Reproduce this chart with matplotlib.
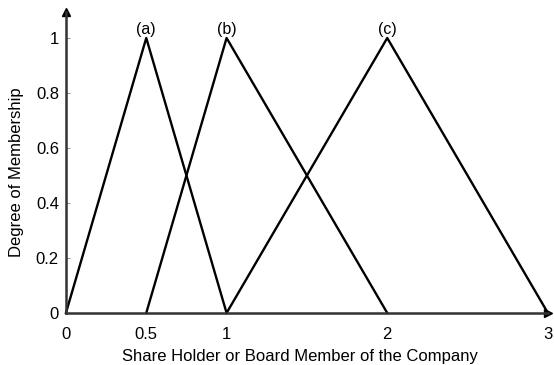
import matplotlib.pyplot as plt

plt.rcParams['font.family'] = ['Liberation Sans', 'DejaVu Sans']

# triangular membership functions (x points, membership values)
labels = ["(a)", "(b)", "(c)"]
a_x = [0, 0.5, 1]
b_x = [0.5, 1, 2]
c_x = [1, 2, 3]
mu = [0, 1, 0]

xticks = [0, 0.5, 1, 2, 3]
xtick_labels = ["0", "0.5", "1", "2", "3"]
yticks = [0, 0.2, 0.4, 0.6, 0.8, 1]
ytick_labels = ["0", "0.2", "0.4", "0.6", "0.8", "1"]

fig = plt.figure(figsize=(5.54, 3.65), dpi=100)
ax = fig.add_axes([0.119, 0.1425, 0.870, 0.825])

for xs, lab in zip([a_x, b_x, c_x], labels):
    ax.plot(xs, mu, color="black", lw=1.7, clip_on=False)
    ax.text(xs[1], 1.005, lab, ha="center", va="bottom", fontsize=11.5)

ax.set_xlim(0, 3)
ax.set_ylim(0, 1.095)
ax.set_xticks(xticks)
ax.set_xticklabels(xtick_labels)
ax.set_yticks(yticks)
ax.set_yticklabels(ytick_labels)
ax.tick_params(axis="both", labelsize=12, direction="in", length=3,
               color="#999999")
ax.tick_params(axis="y", pad=5)
ax.tick_params(axis="x", length=0, pad=10)

for side in ["top", "right"]:
    ax.spines[side].set_visible(False)
for side in ["left", "bottom"]:
    ax.spines[side].set_linewidth(1.8)
    ax.spines[side].set_color("#333333")

# axis arrows
ax.plot(1, 0, ">", color="black", ms=6, transform=ax.transAxes, clip_on=False)
ax.plot(0, 1, "^", color="black", ms=6, transform=ax.transAxes, clip_on=False)

ax.set_xlabel("Share Holder or Board Member of the Company", fontsize=12)
ax.set_ylabel("Degree of Membership", fontsize=12)
ax.xaxis.set_label_coords(0.485, -0.12)
ax.yaxis.set_label_coords(-0.086, 0.468)

fig.savefig("out.png", dpi=100)
